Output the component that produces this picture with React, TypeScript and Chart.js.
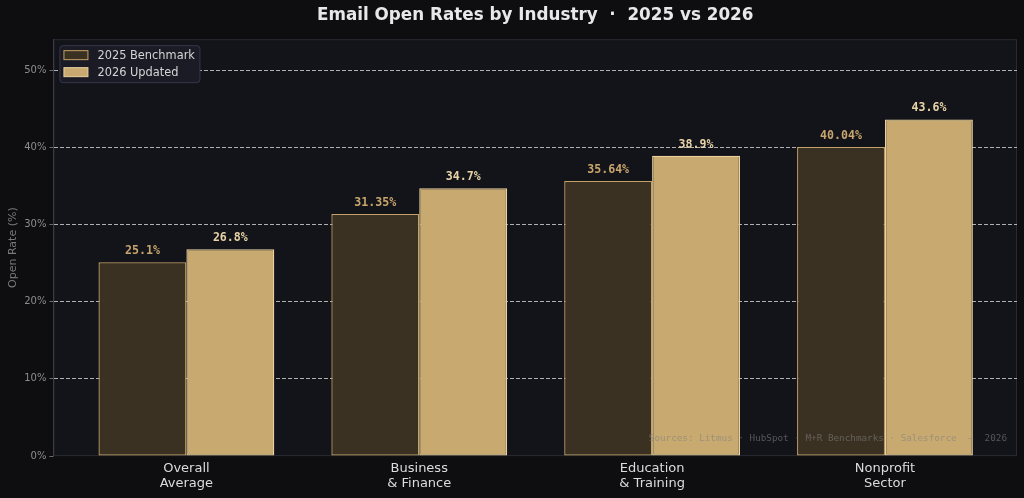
import React, { useEffect, useRef } from "react";
import { Chart, registerables } from "chart.js";

Chart.register(...registerables);

const categories: string[][] = [
  ["Overall", "Average"],
  ["Business", "& Finance"],
  ["Education", "& Training"],
  ["Nonprofit", "Sector"],
];
const series2025: number[] = [25.1, 31.35, 35.64, 40.04];
const series2026: number[] = [26.8, 34.7, 38.9, 43.6];
const seriesNames: string[] = ["2025 Benchmark", "2026 Updated"];
const yTicks: number[] = [0, 10, 20, 30, 40, 50];
const titleText = "Email Open Rates by Industry  ·  2025 vs 2026";
const yAxisTitle = "Open Rate (%)";
const sourcesText = "Sources: Litmus · HubSpot · M+R Benchmarks · Salesforce  —  2026";

const PAGE_BG = "#0e0e10";
const PLOT_BG = "#13141a";
const FRAME = "#2a2b32";
const DARK_FILL = "#3a3122";
const DARK_EDGE = "#c4a266";
const LIGHT_FILL = "#c8aa70";
const LIGHT_EDGE = "#ead2a0";
const DARK_LABEL = "#c8a56c";
const LIGHT_LABEL = "#e8d3a6";

const fmt = (v: number) => `${v}%`;

const plotPanel = {
  id: "plotPanel",
  beforeDraw(chart: any) {
    const { ctx, chartArea: a } = chart;
    ctx.save();
    ctx.fillStyle = PAGE_BG;
    ctx.fillRect(0, 0, chart.width, chart.height);
    ctx.fillStyle = PLOT_BG;
    ctx.fillRect(a.left, a.top, a.right - a.left, a.bottom - a.top);
    ctx.strokeStyle = FRAME;
    ctx.lineWidth = 1;
    ctx.strokeRect(a.left + 0.5, a.top + 0.5, a.right - a.left - 1, a.bottom - a.top - 1);
    ctx.restore();
  },
};

const overlay = {
  id: "overlay",
  afterDatasetsDraw(chart: any) {
    const { ctx, chartArea: a } = chart;
    ctx.save();
    // value labels above each bar
    ctx.font = "bold 11.6px 'DejaVu Sans Mono', monospace";
    ctx.textAlign = "center";
    ctx.textBaseline = "middle";
    chart.data.datasets.forEach((ds: any, di: number) => {
      const meta = chart.getDatasetMeta(di);
      ctx.fillStyle = di === 0 ? DARK_LABEL : LIGHT_LABEL;
      meta.data.forEach((bar: any, i: number) => {
        const v = ds.data[i].y;
        ctx.fillText(fmt(v), bar.x, bar.y - 11);
      });
    });
    // source note
    ctx.font = "9.3px 'DejaVu Sans Mono', monospace";
    ctx.textAlign = "right";
    ctx.fillStyle = "rgba(128,128,128,0.6)";
    ctx.fillText(sourcesText, a.right - 10, a.bottom - 18);
    ctx.restore();
  },
  afterDraw(chart: any) {
    const { ctx, chartArea: a } = chart;
    ctx.save();
    const x0 = a.left + 6;
    const y0 = a.top + 6;
    const w = 140;
    const h = 37;
    ctx.fillStyle = "#1a1b25";
    ctx.strokeStyle = "#35364a";
    ctx.lineWidth = 1;
    ctx.beginPath();
    (ctx as any).roundRect(x0 + 0.5, y0 + 0.5, w, h, 3);
    ctx.fill();
    ctx.stroke();
    ctx.font = "11.4px 'DejaVu Sans', sans-serif";
    ctx.textAlign = "left";
    ctx.textBaseline = "middle";
    chart.data.datasets.forEach((ds: any, i: number) => {
      const cy = y0 + 10 + i * 17;
      ctx.fillStyle = ds.backgroundColor;
      ctx.fillRect(x0 + 4.5, cy - 4.5, 24, 9);
      ctx.strokeStyle = ds.borderColor;
      ctx.strokeRect(x0 + 4.5, cy - 4.5, 24, 9);
      ctx.fillStyle = "#d4d4d4";
      ctx.fillText(ds.label, x0 + 38, cy + 0.5);
    });
    ctx.restore();
  },
};

export default function App() {
  const ref = useRef<HTMLCanvasElement | null>(null);

  useEffect(() => {
    document.body.style.margin = "0";
    document.body.style.background = PAGE_BG;
    const canvas = ref.current;
    if (!canvas) return;
    const chart = new Chart(canvas, {
      type: "bar",
      data: {
        datasets: [
          {
            label: seriesNames[0],
            data: series2025.map((y, x) => ({ x, y })),
            backgroundColor: DARK_FILL,
            borderColor: DARK_EDGE,
            borderWidth: 1.3,
            borderSkipped: false,
          },
          {
            label: seriesNames[1],
            data: series2026.map((y, x) => ({ x, y })),
            backgroundColor: LIGHT_FILL,
            borderColor: LIGHT_EDGE,
            borderWidth: 1.3,
            borderSkipped: false,
          },
        ],
      },
      options: {
        animation: false,
        responsive: false,
        maintainAspectRatio: false,
        categoryPercentage: 0.755,
        barPercentage: 1.0,
        layout: { padding: { left: 0, right: 7, bottom: 2, top: 0 } },
        plugins: {
          legend: { display: false },
          tooltip: { enabled: false },
          title: {
            display: true,
            text: titleText,
            fullSize: false,
            color: "#e8e8e8",
            font: { family: "'DejaVu Sans', sans-serif", size: 16.8, weight: "bold" },
            padding: { top: 6, bottom: 13 },
          },
        },
        scales: {
          x: {
            type: "linear",
            offset: false,
            min: -0.571,
            max: 3.567,
            grid: { display: false, drawTicks: false },
            border: { display: false },
            ticks: {
              stepSize: 1,
              includeBounds: false,
              autoSkip: false,
              maxRotation: 0,
              padding: 5,
              color: "#dcdcdc",
              font: { family: "'DejaVu Sans', sans-serif", size: 13, lineHeight: 1.15 },
              callback: (v: any) =>
                Number.isInteger(v) && categories[v] ? categories[v] : "",
            },
          },
          y: {
            type: "linear",
            min: 0,
            max: 54,
            afterBuildTicks: (s: any) => {
              s.ticks = yTicks.map((value) => ({ value }));
            },
            grid: {
              color: (c: any) =>
                c.tick && c.tick.value === 0 ? "rgba(0,0,0,0)" : "rgba(215,215,215,0.8)",
              borderDash: [4, 2],
              tickColor: "#6a6a70",
              tickLength: 4,
              lineWidth: 1,
            } as any,
            border: { display: true, color: "#3a3b44", width: 1, dash: [4, 2] } as any,
            ticks: {
              padding: 3,
              color: "#8c8c8c",
              font: { family: "'DejaVu Sans', sans-serif", size: 10 },
              callback: (v: any) => `${v}%`,
            },
            title: {
              display: true,
              text: yAxisTitle,
              color: "#7a7a7a",
              font: { family: "'DejaVu Sans', sans-serif", size: 11 },
              padding: { top: 7, bottom: 1 },
            },
          },
        },
      } as any,
      plugins: [plotPanel, overlay],
    });
    return () => chart.destroy();
  }, []);

  return (
    <div style={{ width: 1024, height: 498, background: PAGE_BG }}>
      <canvas ref={ref} width={1024} height={498} style={{ display: "block" }} />
    </div>
  );
}
